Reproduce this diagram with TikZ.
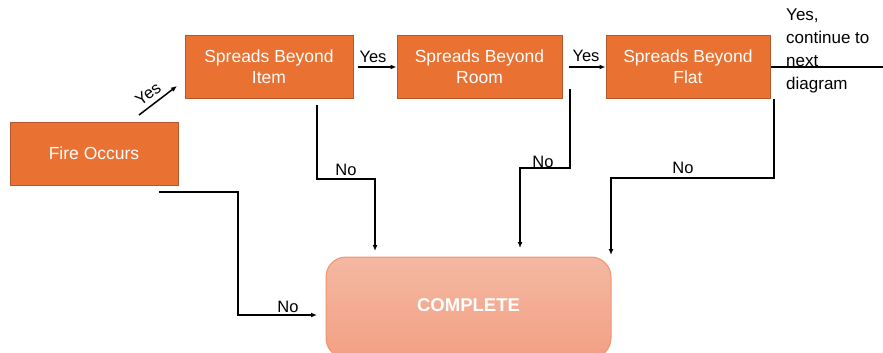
\documentclass[tikz,border=0pt]{standalone}
\usepackage{fontspec}
\setmainfont{Liberation Sans}
\usetikzlibrary{arrows.meta}
\definecolor{boxorange}{HTML}{E97132}
\definecolor{boxedge}{HTML}{B4582C}
\definecolor{ctop}{HTML}{F4B8A3}
\definecolor{cbot}{HTML}{F3A083}
\definecolor{cedge}{HTML}{EF946F}
\tikzset{
  stepbox/.style={draw=boxedge, line width=1pt, fill=boxorange, text=white, inner sep=0pt,
    align=center, font=\fontsize{17.5}{21}\selectfont},
  endbox/.style={draw=cedge, line width=1pt, rounded corners=20pt, top color=ctop, bottom color=cbot,
    text=white, inner sep=0pt},
  conn/.style={line width=1.5pt, black},
  arr/.style={conn, -{Latex[length=6pt,width=5pt]}},
  lbl/.style={inner sep=0pt, font=\fontsize{16.5}{18}\selectfont, text=black},
}
\begin{document}
\begin{tikzpicture}[x=1pt,y=-1pt]
\useasboundingbox (0,0) rectangle (883,353);
% boxes
\node[stepbox, minimum width=168pt, minimum height=63pt] (fire) at (94,153.5) {Fire Occurs};
\node[stepbox, minimum width=168pt, minimum height=62pt] (item) at (269,67) {Spreads Beyond\\Item};
\node[stepbox, minimum width=165pt, minimum height=62pt] (room) at (479.5,67) {Spreads Beyond\\Room};
\node[stepbox, minimum width=164pt, minimum height=62pt] (flat) at (688,67) {Spreads Beyond\\Flat};
\node[endbox, minimum width=285pt, minimum height=101pt] (done) at (468.5,307.5) {};
\node[inner sep=0pt, text=white, font=\fontsize{18.5}{20}\selectfont\bfseries] (donetext) at (468.5,305) {COMPLETE};
% coordinates
\coordinate (ys) at (139,115);
\coordinate (ye) at (177,86);
\coordinate (nexte) at (883,67);
\coordinate (n1a) at (317,105);
\coordinate (n1b) at (375,179);
\coordinate (n1c) at (375,251);
\coordinate (n2a) at (570,89);
\coordinate (n2b) at (520,168);
\coordinate (n2c) at (520,248);
\coordinate (n3a) at (774,99);
\coordinate (n3b) at (611,178);
\coordinate (n3c) at (611,255);
\coordinate (n4a) at (159,192);
\coordinate (n4b) at (238,315);
\coordinate (n4c) at (317,315);
% connectors
\draw[arr] (ys) -- (ye);
\node[lbl, rotate=37] (yes1) at (148,94) {Yes};
\draw[arr, shorten <=4pt] (item.east) -- (room.west);
\node[lbl] (yes2) at (373,57) {Yes};
\draw[arr, shorten <=6pt] (room.east) -- (flat.west);
\node[lbl] (yes3) at (586,56) {Yes};
\draw[conn] (flat.east) -- (nexte);
\node[lbl, anchor=west, align=left, font=\fontsize{17}{22.8}\selectfont] (cont) at (786,51)
  {Yes,\\continue to\\next\\diagram};
\draw[arr] (n1a) |- (n1b) -- (n1c);
\node[lbl] (no1) at (346,170) {No};
\draw[arr] (n2a) |- (n2b) -- (n2c);
\node[lbl] (no2) at (543,162) {No};
\draw[arr] (n3a) |- (n3b) -- (n3c);
\node[lbl] (no3) at (683,168) {No};
\draw[arr] (n4a) -| (n4b) -- (n4c);
\node[lbl] (no4) at (288,307) {No};
\end{tikzpicture}
\end{document}
